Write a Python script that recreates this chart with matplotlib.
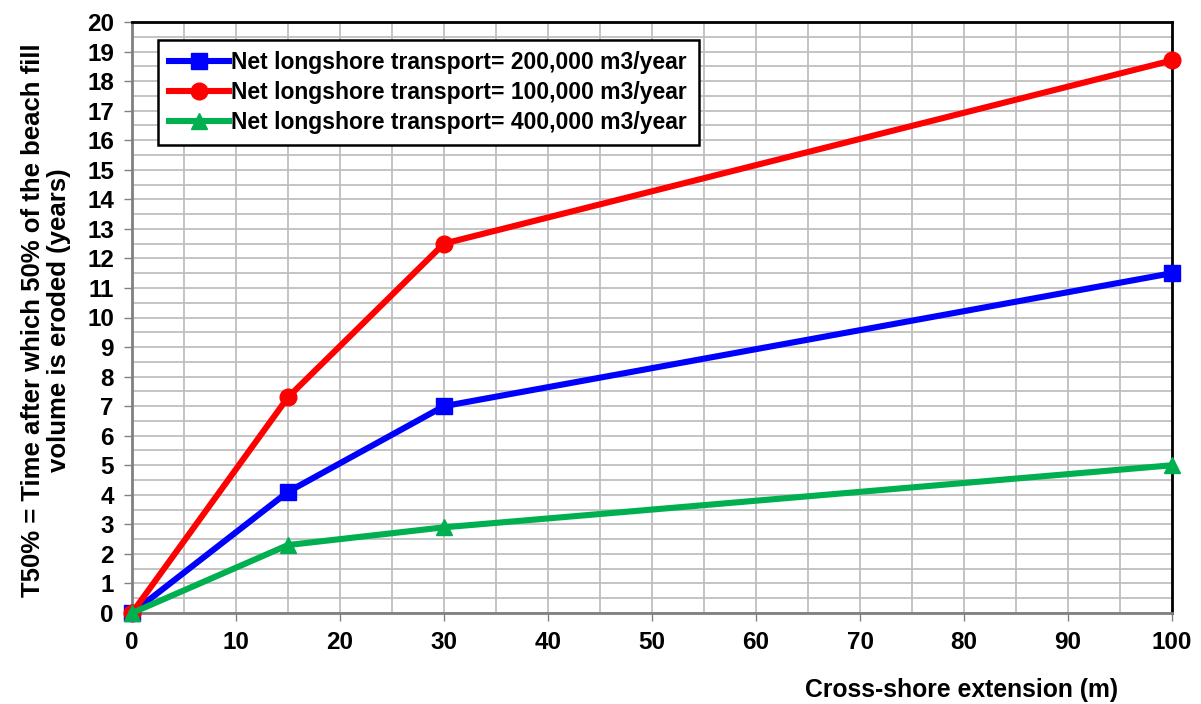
import matplotlib.pyplot as plt
from matplotlib.ticker import MultipleLocator

plt.rcParams['font.family'] = ['Liberation Sans', 'DejaVu Sans']
plt.rcParams['font.weight'] = 'bold'

extension = [0, 15, 30, 100]
t50_200k = [0, 4.1, 7.0, 11.5]
t50_100k = [0, 7.3, 12.5, 18.7]
t50_400k = [0, 2.3, 2.9, 5.0]

labels = ['Net longshore transport= 200,000 m3/year',
          'Net longshore transport= 100,000 m3/year',
          'Net longshore transport= 400,000 m3/year']

fig = plt.figure(figsize=(12.01, 7.04), dpi=100)
ax = fig.add_axes([132 / 1201, 1 - 613 / 704, 1040 / 1201, 591 / 704])

ax.plot(extension, t50_200k, color='#0000FF', lw=4.4, marker='s', ms=11.5, label=labels[0], clip_on=False, zorder=3)
ax.plot(extension, t50_100k, color='#FF0000', lw=4.4, marker='o', ms=12, label=labels[1], clip_on=False, zorder=3)
ax.plot(extension, t50_400k, color='#00B050', lw=4.4, marker='^', ms=12, label=labels[2], clip_on=False, zorder=3)

ax.set_xlim(0, 100)
ax.set_ylim(0, 20)
ax.xaxis.set_major_locator(MultipleLocator(10))
ax.xaxis.set_minor_locator(MultipleLocator(5))
ax.yaxis.set_major_locator(MultipleLocator(1))
ax.yaxis.set_minor_locator(MultipleLocator(0.5))
ax.grid(which='both', color='#BFBFBF', lw=1.3)
ax.set_axisbelow(True)
ax.tick_params(which='major', length=6, width=1, color='#808080', labelsize=17.5, pad=7)
ax.tick_params(which='minor', length=0)
for lbl in ax.get_xticklabels() + ax.get_yticklabels():
    lbl.set_fontweight('bold')

ax.spines['left'].set_color('#808080')
ax.spines['bottom'].set_color('#808080')
ax.spines['left'].set_linewidth(2)
ax.spines['bottom'].set_linewidth(2)
ax.spines['top'].set_color('black')
ax.spines['right'].set_color('black')
ax.spines['top'].set_linewidth(2)
ax.spines['right'].set_linewidth(2)

leg = ax.legend(loc='upper left', bbox_to_anchor=(0.025, 0.97), fontsize=16.5, handlelength=2.6,
                handletextpad=0.1, borderpad=0.5, labelspacing=0.3, fancybox=False, framealpha=1,
                edgecolor='black', borderaxespad=0)
leg.get_frame().set_linewidth(1.8)
for t in leg.get_texts():
    t.set_fontweight('bold')

fig.text(46 / 1201, 1 - 320 / 704, 'T50% = Time after which 50% of the beach fill\nvolume is eroded (years)',
         rotation=90, ha='center', va='center', fontsize=18.5, fontweight='bold', linespacing=1.08)
fig.text(962 / 1201, 1 - 690 / 704, 'Cross-shore extension (m)', ha='center', va='center',
         fontsize=17.8, fontweight='bold')

fig.savefig('out.png', dpi=100)
